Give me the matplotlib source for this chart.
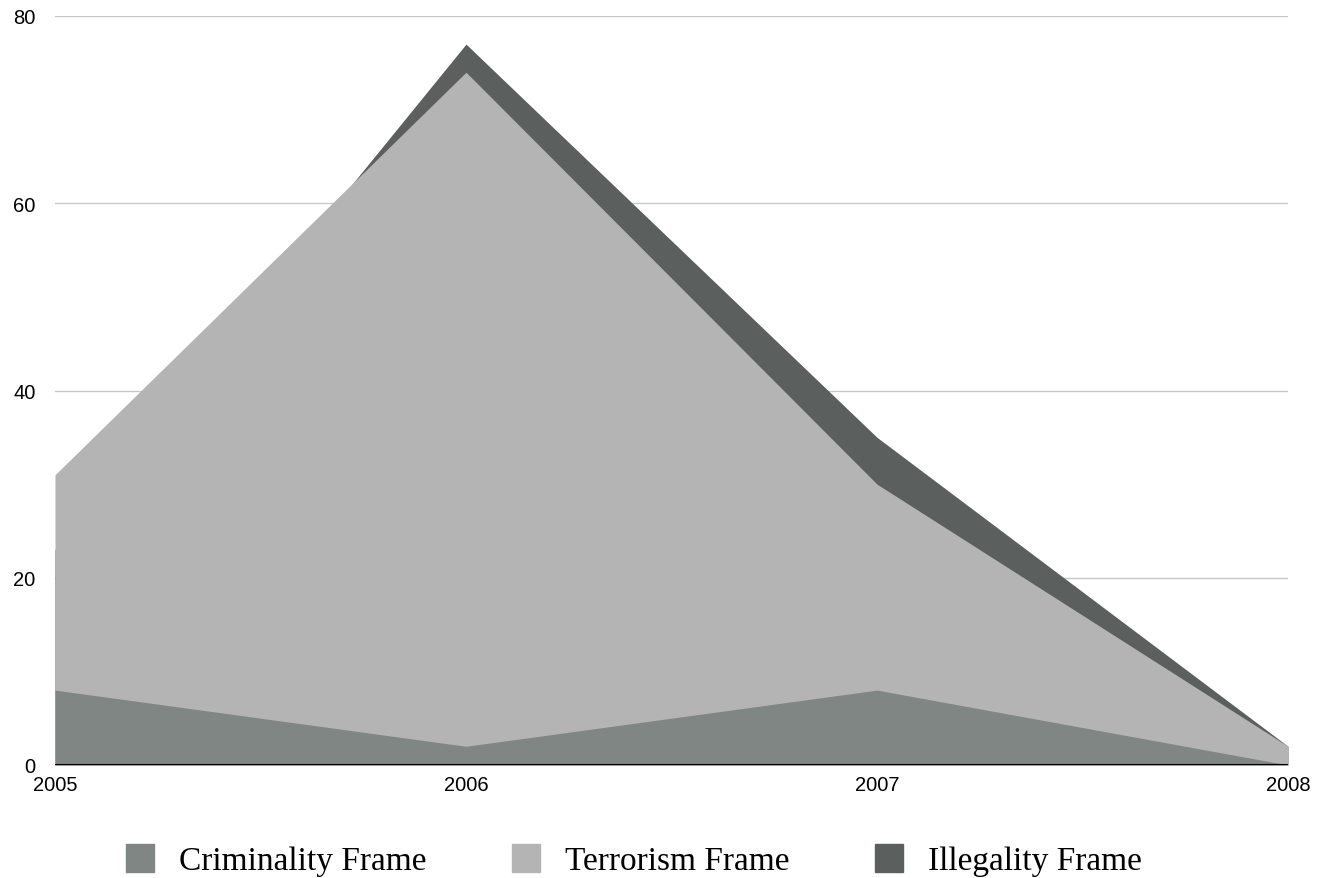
import matplotlib.pyplot as plt
from matplotlib.patches import Patch

# data
years = [2005, 2006, 2007, 2008]
criminality = [8, 2, 8, 0]
terrorism = [31, 74, 30, 2]
illegality = [23, 77, 35, 2]

names = ["Criminality Frame", "Terrorism Frame", "Illegality Frame"]
colors = ["#808683", "#b4b4b4", "#5b605e"]

fig = plt.figure(figsize=(13.31, 8.79), dpi=100)
ax = fig.add_axes([55/1331, 1-766/879, (1288-55)/1331, (766-17)/879])

# areas overlap (drawn from zero), darkest at the back
ax.fill_between(years, 0, illegality, color=colors[2], lw=0, zorder=2)
ax.fill_between(years, 0, terrorism, color=colors[1], lw=0, zorder=3)
ax.fill_between(years, 0, criminality, color=colors[0], lw=0, zorder=4)

ax.set_xlim(2005, 2008)
ax.set_ylim(0, 80)
ax.set_yticks([0, 20, 40, 60, 80])
ax.set_xticks(years)
ax.set_xticklabels([str(y) for y in years])
for y in [20, 40, 60, 80]:
    ax.axhline(y, color="#c8c8c8", lw=1, zorder=1)
ax.axhline(0, color="black", lw=1.5, zorder=5)

for s in ax.spines.values():
    s.set_visible(False)
ax.tick_params(length=0, labelsize=14.5, labelcolor="black")
ax.tick_params(axis="y", pad=14)
ax.tick_params(axis="x", pad=7)
for t in ax.get_yticklabels() + ax.get_xticklabels():
    t.set_fontfamily("Liberation Sans")

handles = [Patch(color=c, label=n) for c, n in zip(colors, names)]
fig.legend(handles=handles, loc="center", bbox_to_anchor=(634/1331, 1-861/879), ncol=3,
           frameon=False, prop={"family": "Liberation Serif", "size": 24},
           handlelength=0.84, handleheight=0.9, handletextpad=0.76, columnspacing=2.55)

fig.savefig("out.png", dpi=100)
